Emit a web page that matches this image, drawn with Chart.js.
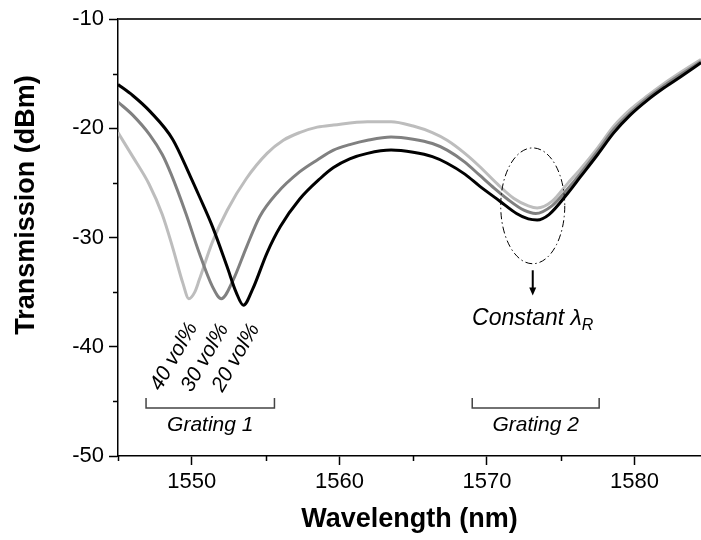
<!DOCTYPE html>
<html>
<head>
<meta charset="utf-8">
<script src="https://cdn.jsdelivr.net/npm/chart.js@4.4.0/dist/chart.umd.min.js"></script>
<style>
html, body { margin: 0; padding: 0; background: #fff; }
#wrap { width: 701px; height: 540px; }
</style>
</head>
<body>
<div id="wrap"><canvas id="spectrum" width="701" height="540"></canvas></div>
<script>
// wavelength (nm) and transmission (dBm), one pair per curve
const wl20 = [1545, 1546.0, 1547.2, 1548.7, 1549.9, 1550.5, 1551.4, 1552.4, 1553.0, 1553.5, 1554.1, 1555.1, 1556.0, 1557.3, 1558.7, 1559.6, 1560.7, 1561.9, 1563.5, 1565.0, 1566.3, 1567.3, 1568.5, 1569.5, 1570.9, 1572.0, 1572.8, 1573.4, 1574.2, 1575.5, 1576.3, 1577.5, 1578.6, 1579.7, 1580.9, 1582.0, 1583.1, 1584.5];
const tr20 = [-16.0, -17.0, -18.5, -21.0, -24.4, -26.2, -29.0, -32.7, -35.0, -36.2, -34.8, -31.4, -29.0, -26.5, -24.6, -23.6, -22.8, -22.3, -22.0, -22.2, -22.6, -23.2, -24.2, -25.3, -26.7, -27.8, -28.3, -28.4, -27.9, -25.9, -24.5, -22.4, -20.4, -18.8, -17.4, -16.3, -15.3, -14.0];

const wl30 = [1545, 1546.0, 1547.15, 1548.0, 1548.6, 1549.6, 1550.5, 1551.4, 1552.0, 1552.8, 1553.7, 1554.6, 1555.8, 1557.3, 1558.5, 1559.6, 1560.7, 1561.9, 1563.5, 1565.0, 1566.3, 1567.3, 1568.5, 1569.5, 1570.5, 1571.4, 1572.5, 1573.3, 1574.4, 1575.5, 1576.3, 1577.5, 1578.6, 1579.7, 1580.9, 1582.0, 1583.1, 1584.5];
const tr30 = [-17.6, -18.8, -20.6, -22.4, -24.2, -27.8, -31.4, -34.5, -35.6, -33.9, -30.9, -28.1, -25.9, -24.0, -22.9, -22.0, -21.5, -21.1, -20.8, -21.0, -21.4, -22.0, -23.1, -24.3, -25.5, -26.5, -27.5, -27.8, -27.1, -25.5, -24.2, -22.1, -20.1, -18.6, -17.2, -16.1, -15.1, -13.9];

const wl40 = [1545, 1546.0, 1547.1, 1548.0, 1548.7, 1549.4, 1549.8, 1550.2, 1550.5, 1551.4, 1552.4, 1553.7, 1555.1, 1556.2, 1557.3, 1558.5, 1559.6, 1561.9, 1563.5, 1565.0, 1566.3, 1567.3, 1568.5, 1569.5, 1570.7, 1571.8, 1572.8, 1573.4, 1574.4, 1575.5, 1576.3, 1577.5, 1578.6, 1579.7, 1580.9, 1582.0, 1583.1, 1584.5];
const tr40 = [-20.4, -22.6, -25.1, -27.9, -30.9, -34.2, -35.6, -35.0, -33.9, -30.4, -27.5, -24.6, -22.3, -21.1, -20.4, -19.9, -19.7, -19.4, -19.4, -19.8, -20.4, -21.1, -22.3, -23.5, -25.1, -26.4, -27.1, -27.3, -26.7, -25.0, -23.8, -21.8, -19.8, -18.3, -17.0, -15.9, -14.9, -13.7];

const xTicks = [1545, 1550, 1555, 1560, 1565, 1570, 1575, 1580];
const yTicks = [-50, -45, -40, -35, -30, -25, -20, -15, -10];

const volLabels = ["40 vol%", "30 vol%", "20 vol%"];
const gratingLabels = ["Grating 1", "Grating 2"];

const FONT = "'Liberation Sans', Arial, sans-serif";

function toPoints(xs, ys) {
    return xs.map((x, i) => ({ x: x, y: ys[i] }));
}

// annotations, placed in data units
const notes = {
    volAt: [[1548.8, -40.9], [1550.9, -41.0], [1553.0, -41.0]],
    gratingFrom: [1546.9, 1569.0],
    gratingTo: [1555.6, 1577.6],
    bracketY: -45.6,
    bracketTop: -44.7,
    gratingTextY: -47.2,
    ellipse: { x: 1573.1, y: -27.1, rx: 2.17, ry: 5.3 },
    arrow: { x: 1573.1, from: -33.0, to: -35.3 },
    constantY: -37.4
};

const extras = {
    id: 'extras',
    afterDraw(chart) {
        const ctx = chart.ctx;
        const a = chart.chartArea;
        const x = chart.scales.x;
        const y = chart.scales.y;
        ctx.save();

        // frame on top
        ctx.strokeStyle = '#333';
        ctx.lineWidth = 2;
        ctx.beginPath();
        ctx.moveTo(a.left, a.top);
        ctx.lineTo(a.right, a.top);
        ctx.stroke();

        // minor ticks
        ctx.strokeStyle = '#000';
        ctx.lineWidth = 1.5;
        ctx.beginPath();
        xTicks.filter(v => v % 10 !== 0).forEach(v => {
            const px = Math.round(x.getPixelForValue(v)) + 0.5;
            ctx.moveTo(px, a.bottom);
            ctx.lineTo(px, a.bottom + 5);
        });
        yTicks.filter(v => v % 10 !== 0).forEach(v => {
            const py = Math.round(y.getPixelForValue(v)) + 0.5;
            ctx.moveTo(a.left - 5, py);
            ctx.lineTo(a.left, py);
        });
        ctx.stroke();

        // y axis title, sits above the middle of the axis in the original
        ctx.fillStyle = '#000';
        ctx.save();
        ctx.translate(27, 205);
        ctx.rotate(-Math.PI / 2);
        ctx.font = 'bold 27px ' + FONT;
        ctx.textAlign = 'center';
        ctx.textBaseline = 'middle';
        ctx.fillText('Transmission (dBm)', 0, 0);
        ctx.restore();

        // rotated concentration labels
        ctx.font = 'italic 21px ' + FONT;
        ctx.textAlign = 'center';
        ctx.textBaseline = 'middle';
        volLabels.forEach((t, i) => {
            ctx.save();
            ctx.translate(x.getPixelForValue(notes.volAt[i][0]), y.getPixelForValue(notes.volAt[i][1]));
            ctx.rotate(-60 * Math.PI / 180);
            ctx.fillText(t, 0, 0);
            ctx.restore();
        });

        // grating brackets
        ctx.strokeStyle = '#444';
        ctx.lineWidth = 1.5;
        const by = y.getPixelForValue(notes.bracketY);
        const bt = y.getPixelForValue(notes.bracketTop);
        gratingLabels.forEach((t, i) => {
            const x1 = x.getPixelForValue(notes.gratingFrom[i]);
            const x2 = x.getPixelForValue(notes.gratingTo[i]);
            ctx.beginPath();
            ctx.moveTo(x1, bt);
            ctx.lineTo(x1, by);
            ctx.lineTo(x2, by);
            ctx.lineTo(x2, bt);
            ctx.stroke();
            ctx.fillText(t, (x1 + x2) / 2, y.getPixelForValue(notes.gratingTextY));
        });

        // dash-dot ellipse round the second dip
        const e = notes.ellipse;
        const ex = x.getPixelForValue(e.x);
        const ey = y.getPixelForValue(e.y);
        const erx = x.getPixelForValue(e.x + e.rx) - ex;
        const ery = y.getPixelForValue(e.y - e.ry) - ey;
        ctx.strokeStyle = '#000';
        ctx.lineWidth = 1;
        ctx.setLineDash([7, 3, 1.5, 3]);
        ctx.beginPath();
        ctx.ellipse(ex, ey, erx, ery, 0, 0, 2 * Math.PI);
        ctx.stroke();
        ctx.setLineDash([]);

        // arrow
        const ax = x.getPixelForValue(notes.arrow.x);
        const ay1 = y.getPixelForValue(notes.arrow.from);
        const ay2 = y.getPixelForValue(notes.arrow.to);
        ctx.lineWidth = 2;
        ctx.beginPath();
        ctx.moveTo(ax, ay1);
        ctx.lineTo(ax, ay2 - 7);
        ctx.stroke();
        ctx.beginPath();
        ctx.moveTo(ax - 3.5, ay2 - 8);
        ctx.lineTo(ax + 3.5, ay2 - 8);
        ctx.lineTo(ax, ay2);
        ctx.closePath();
        ctx.fill();

        // Constant lambda_R
        const cy = y.getPixelForValue(notes.constantY);
        ctx.font = 'italic 23px ' + FONT;
        const main = 'Constant \u03bb';
        const wMain = ctx.measureText(main).width;
        ctx.font = 'italic 16px ' + FONT;
        const wSub = ctx.measureText('R').width;
        const start = ax - (wMain + wSub) / 2;
        ctx.textAlign = 'left';
        ctx.font = 'italic 23px ' + FONT;
        ctx.fillText(main, start, cy);
        ctx.font = 'italic 16px ' + FONT;
        ctx.fillText('R', start + wMain, cy + 7);

        ctx.restore();
    }
};

function tickColor(c) {
    return c.tick && c.tick.value % 10 === 0 ? '#000' : 'rgba(0,0,0,0)';
}

new Chart(document.getElementById('spectrum'), {
    type: 'line',
    data: {
        datasets: [
            { label: '20 vol%', data: toPoints(wl20, tr20), borderColor: '#000000', borderWidth: 3, pointRadius: 0, cubicInterpolationMode: 'monotone', fill: false },
            { label: '30 vol%', data: toPoints(wl30, tr30), borderColor: '#808080', borderWidth: 3, pointRadius: 0, cubicInterpolationMode: 'monotone', fill: false },
            { label: '40 vol%', data: toPoints(wl40, tr40), borderColor: '#bdbdbd', borderWidth: 3, pointRadius: 0, cubicInterpolationMode: 'monotone', fill: false }
        ]
    },
    options: {
        responsive: false,
        animation: false,
        layout: { padding: { top: 19, right: 0, left: 0, bottom: 0 } },
        plugins: {
            legend: { display: false },
            tooltip: { enabled: false }
        },
        scales: {
            x: {
                type: 'linear',
                min: 1545,
                max: 1584.5,
                afterBuildTicks: s => { s.ticks = xTicks.map(v => ({ value: v })); },
                afterFit: s => { s.height = 84; },
                border: { color: '#000', width: 1.5 },
                grid: { drawOnChartArea: false, tickLength: 9, tickWidth: 1.5, tickColor: tickColor },
                ticks: {
                    autoSkip: false,
                    maxRotation: 0,
                    padding: 4,
                    color: '#000',
                    font: { family: FONT, size: 22 },
                    callback: v => (v % 10 === 0 ? String(v) : '')
                },
                title: {
                    display: true,
                    text: 'Wavelength (nm)',
                    color: '#000',
                    font: { family: FONT, size: 27, weight: 'bold' },
                    padding: { top: 0, bottom: 4 }
                }
            },
            y: {
                min: -50,
                max: -10,
                afterBuildTicks: s => { s.ticks = yTicks.map(v => ({ value: v })); },
                afterFit: s => { s.width = 118; },
                border: { color: '#000', width: 1.5 },
                grid: { drawOnChartArea: false, tickLength: 9, tickWidth: 1.5, tickColor: tickColor },
                ticks: {
                    autoSkip: false,
                    padding: 5,
                    color: '#000',
                    font: { family: FONT, size: 22 },
                    callback: v => (v % 10 === 0 ? String(v) : '')
                }
            }
        }
    },
    plugins: [extras]
});
</script>
</body>
</html>
